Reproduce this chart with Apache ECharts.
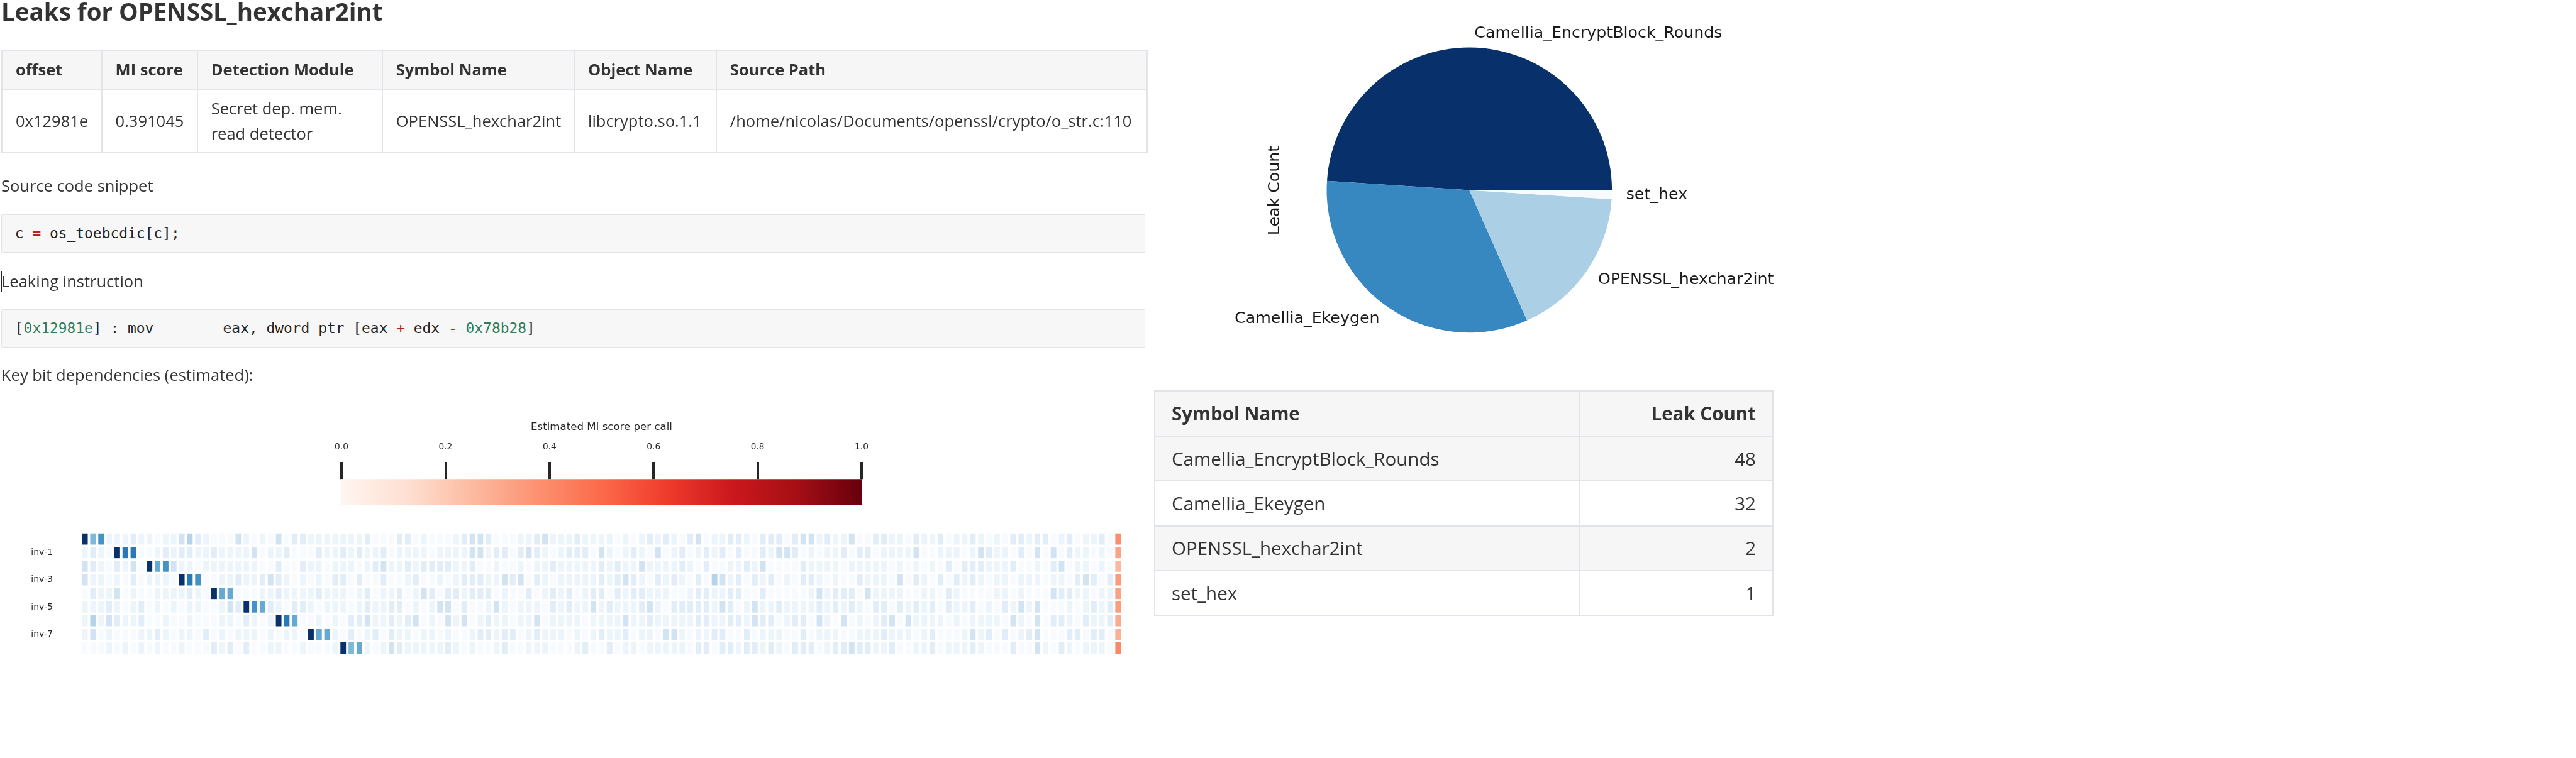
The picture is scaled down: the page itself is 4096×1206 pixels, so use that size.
<!DOCTYPE html>
<html>
<head>
<meta charset="utf-8">
<script src="https://cdn.jsdelivr.net/npm/echarts@6/dist/echarts.min.js"></script>
<style>
html,body{margin:0;padding:0;background:#fff;}
#page{position:relative;width:4096px;height:1206px;overflow:hidden;font-family:"Open Sans",sans-serif;color:#333;}
#chart{position:absolute;left:0;top:0;width:4096px;height:1206px;}
.t{position:absolute;white-space:pre;line-height:1;}
.code{position:absolute;left:1.8px;width:1819px;height:61px;background:#f7f7f7;border:1px solid #e3e3e3;border-radius:2px;box-sizing:border-box;}
.code span.txt{position:absolute;left:21px;white-space:pre;line-height:1;font-family:"DejaVu Sans Mono",monospace;font-size:22.9px;color:#222;}
.op{color:#ba2121;}
.num{color:#2e7d5b;}
table{position:absolute;border-collapse:collapse;table-layout:fixed;}
td,th{border:2px solid #e1e4e8;box-sizing:border-box;}
#t1 th,#t1 td{font-size:25.5px;padding:0 0 0 21px;text-align:left;vertical-align:middle;line-height:40.6px;}
#t1 th{background:#f6f6f6;font-weight:700;}
#t2 th,#t2 td{font-size:29.5px;padding:0 26px;vertical-align:middle;line-height:40px;}
#t2 th{background:#f6f6f6;font-weight:700;}
#t2 tr:nth-child(even) td{background:#f6f6f6;}
</style>
</head>
<body>
<div id="page">
  <div id="chart"></div>
  <div class="t" style="left:2px;top:-1px;font-size:38.5px;font-weight:700;">Leaks for OPENSSL_hexchar2int</div>
  <table id="t1" style="left:2px;top:78.5px;width:1821px;"></table>
  <div class="t" style="left:2px;top:282.5px;font-size:25.5px;">Source code snippet</div>
  <div class="code" style="top:340.5px;"><span class="txt" style="top:18.5px;">c <span class="op">=</span> os_toebcdic[c];</span></div>
  <div style="position:absolute;left:0.5px;top:430.6px;width:2px;height:33px;background:#222;"></div>
  <div class="t" style="left:2px;top:434.6px;font-size:25.5px;">Leaking instruction</div>
  <div class="code" style="top:491.7px;"><span class="txt" style="top:18.5px;">[<span class="num">0x12981e</span>] : mov        eax, dword ptr [eax <span class="op">+</span> edx <span class="op">-</span> <span class="num">0x78b28</span>]</span></div>
  <div class="t" style="left:2px;top:584px;font-size:25.5px;">Key bit dependencies (estimated):</div>
  <table id="t2" style="left:1835px;top:621px;width:983px;"></table>
</div>
<script>
// ---------- data ----------
const leakTableHeader = ['offset', 'MI score', 'Detection Module', 'Symbol Name', 'Object Name', 'Source Path'];
const leakTableRow = ['0x12981e', '0.391045', 'Secret dep. mem.<br>read detector', 'OPENSSL_hexchar2int', 'libcrypto.so.1.1', '/home/nicolas/Documents/openssl/crypto/o_str.c:110'];

const symbolNames = ['Camellia_EncryptBlock_Rounds', 'Camellia_Ekeygen', 'OPENSSL_hexchar2int', 'set_hex'];
const tableLeakCounts = [48, 32, 2, 1];
const pieLeakCounts = [48, 32, 17, 1];
const pieColors = ['#08306b', '#3787c0', '#abd0e6', '#f7fbff'];

const rowLabels = ['inv-0', 'inv-1', 'inv-2', 'inv-3', 'inv-4', 'inv-5', 'inv-6', 'inv-7', 'inv-8'];
const cbTicks = [0.0, 0.2, 0.4, 0.6, 0.8, 1.0];
// per-row key-bit shade codes, 128 bits each (4 chunks)
const keyBitRows = [
  ['XAC111211011342100031010302211111', '11200022010001233200011231112111', '10101212102301122102220233121130', '0221102112011210102212201201120'],
  ['1210XDD00121221121111301120002112', '12112011110111133122023210122203', '10121030120121202002133201011202', '2011113001110132110203030211010'],
  ['32102130XBC3110111111100200211011', '10123112122221120010010112111112', '12113111121020011213000021111011', '1110101010202221112001023011010'],
  ['311010201110XDC001121123210101022', '02002001200101222113230210111112', '12321021210204312021201022101002', '1110302102021210110111011023202'],
  ['0211301001111210XBB00011211112111', '01201120132022122201002012120122', '02122111001221122002000001312220', '3111100110210000110100032211011'],
  ['11121012010101100132XCB2102210111', '01211220101330200131011102121131', '21112310222221320131121111212121', '0220212120211201021313000101212'],
  ['141321120010010001102101XDB001010', '22311212301031301211011301111011', '11311211111221122132201220310301', '0123031111010111103103022102112'],
  ['1301000112101102010111010110XBB10', '20120211011010012212201211101012', '11201103310112200201110020111001', '1121110120001312020123000220220'],
  ['00010101010010002120200110010001X', 'AB101321111121010012001110001200', '20110111110220221221210222012232', '2112001120111210002003102101110']
];
const shadeValue = {'0': 0.0, '1': 0.05, '2': 0.11, '3': 0.19, '4': 0.3, 'A': 0.45, 'B': 0.52, 'C': 0.62, 'D': 0.72, 'X': 1.0};
const miPerCall = [0.39, 0.32, 0.26, 0.35, 0.33, 0.34, 0.30, 0.28, 0.40];

const bluesCmap = ['#f7fbff','#deebf7','#c6dbef','#9ecae1','#6baed6','#4292c6','#2171b5','#08519c','#08306b'];
const redsCmap = ['#fff5f0','#fee0d2','#fcbba1','#fc9272','#fb6a4a','#ef3b2c','#cb181d','#a50f15','#67000d'];

// ---------- tables ----------
(function () {
  const w1 = [158.6, 152.1, 294.1, 305.2, 225.9, 685];
  let h = '<colgroup>' + w1.map(w => '<col style="width:' + w + 'px">').join('') + '</colgroup>';
  h += '<tr style="height:62px">' + leakTableHeader.map(x => '<th>' + x + '</th>').join('') + '</tr>';
  h += '<tr style="height:101.5px">' + leakTableRow.map(x => '<td>' + x + '</td>').join('') + '</tr>';
  document.getElementById('t1').innerHTML = h;

  let g = '<colgroup><col style="width:674.5px"><col style="width:308.5px"></colgroup>';
  g += '<tr style="height:72px"><th style="text-align:left">Symbol Name</th><th style="text-align:right">Leak Count</th></tr>';
  symbolNames.forEach((n, i) => {
    g += '<tr style="height:71.3px"><td style="text-align:left">' + n + '</td><td style="text-align:right">' + tableLeakCounts[i] + '</td></tr>';
  });
  document.getElementById('t2').innerHTML = g;
})();

// ---------- chart ----------
const nBits = keyBitRows[0].join('').length;
const colCats = [];
for (let i = 0; i <= nBits; i++) colCats.push(String(i));
const keyBitData = [];
keyBitRows.forEach((chunks, r) => {
  chunks.join('').split('').forEach((ch, c) => keyBitData.push([c, r, shadeValue[ch]]));
});
const miData = miPerCall.map((v, r) => [nBits, r, v]);

const chart = echarts.init(document.getElementById('chart'), null, {renderer: 'canvas'});
const font = 'DejaVu Sans';
chart.setOption({
  animation: false,
  backgroundColor: 'transparent',
  grid: [
    {left: 128.9, top: 847, width: 1655.6, height: 195},
    {left: 543, top: 762.2, width: 827, height: 41.5}
  ],
  xAxis: [
    {type: 'category', gridIndex: 0, data: colCats, show: false},
    {type: 'value', gridIndex: 1, min: 0, max: 1, interval: 0.2, position: 'top',
      axisLine: {show: false},
      axisTick: {show: true, length: 27.1, lineStyle: {color: '#262626', width: 4}},
      axisLabel: {margin: 43.3, fontFamily: font, fontSize: 13.7, color: '#262626',
        formatter: v => cbTicks.includes(+v.toFixed(1)) ? v.toFixed(1) : ''},
      splitLine: {show: false},
      name: 'Estimated MI score per call', nameLocation: 'middle', nameGap: 74.4,
      nameTextStyle: {fontFamily: font, fontSize: 16.6, color: '#262626'}}
  ],
  yAxis: [
    {type: 'category', gridIndex: 0, data: rowLabels, inverse: true,
      axisLine: {show: false}, axisTick: {show: false},
      axisLabel: {interval: (i) => i % 2 === 1, margin: 45, fontFamily: font, fontSize: 14, color: '#262626'}},
    {type: 'category', gridIndex: 1, data: ['MI'], show: false}
  ],
  visualMap: [
    {type: 'continuous', show: false, seriesIndex: 0, min: 0, max: 1, inRange: {color: bluesCmap}},
    {type: 'continuous', show: false, seriesIndex: 1, min: 0, max: 1, inRange: {color: redsCmap}}
  ],
  graphic: [
    {type: 'text', x: 2027.5, y: 303, rotation: Math.PI / 2,
      style: {text: 'Leak Count', fontFamily: font, fontSize: 25.3, fill: '#1a1a1a', align: 'center', verticalAlign: 'middle'}}
  ],
  series: [
    {type: 'heatmap', xAxisIndex: 0, yAxisIndex: 0, data: keyBitData,
      itemStyle: {borderColor: '#fff', borderWidth: 3.9}, emphasis: {disabled: true}},
    {type: 'heatmap', xAxisIndex: 0, yAxisIndex: 0, data: miData,
      itemStyle: {borderColor: '#fff', borderWidth: 3.9}, emphasis: {disabled: true}},
    {type: 'bar', xAxisIndex: 1, yAxisIndex: 1, data: [cbTicks[cbTicks.length - 1]], barWidth: '100%', silent: true,
      itemStyle: {color: new echarts.graphic.LinearGradient(0, 0, 1, 0,
        redsCmap.map((c, i) => ({offset: i / (redsCmap.length - 1), color: c})))}},
    {type: 'pie', center: [2336.3, 302.4], radius: 226.8, startAngle: 0, clockwise: false,
      avoidLabelOverlap: false, silent: true,
      data: symbolNames.map((n, i) => ({name: n, value: pieLeakCounts[i], itemStyle: {color: pieColors[i]}})),
      label: {show: true, position: 'outside', fontFamily: font, fontSize: 25.3, color: '#1a1a1a', distanceToLabelLine: 0},
      labelLine: {show: false, length: 22.7, length2: 0},
      emphasis: {disabled: true}}
  ]
});
</script>
</body>
</html>
